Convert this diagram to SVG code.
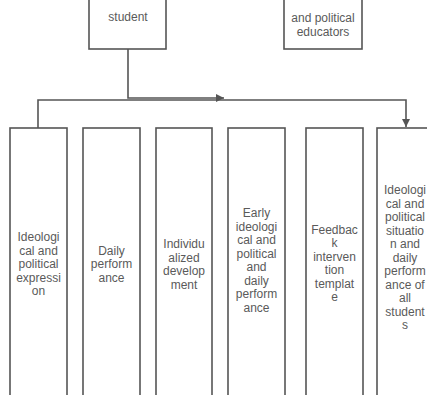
<svg xmlns="http://www.w3.org/2000/svg" width="427" height="395" viewBox="0 0 427 395">
<defs>
<style>
.box{fill:#fff;stroke:#555;stroke-width:1.6}
.ln{fill:none;stroke:#555;stroke-width:1.6}
text{font-family:"Liberation Sans",Arial,sans-serif;font-size:12px;fill:#5a5a5a;text-anchor:middle}
</style>
<marker id="ah" viewBox="0 0 10 10" refX="10" refY="5" markerWidth="11" markerHeight="8" markerUnits="userSpaceOnUse" orient="auto">
<path d="M0,0 L10,5 L0,10 Z" fill="#555"/>
</marker>
</defs>
<rect width="427" height="395" fill="#fff"/>
<g id="student">
<rect class="box" x="89" y="-10" width="77" height="59"/>
<text x="128" y="21">student</text>
</g>
<g id="educators">
<rect class="box" x="284" y="-10" width="78" height="59"/>
<text x="323" y="22">and political</text>
<text x="323" y="36">educators</text>
</g>
<g id="connectors">
<path class="ln" d="M128,49 V98 H224" marker-end="url(#ah)"/>
<path class="ln" d="M38,128 V100 H406 V127" marker-end="url(#ah)"/>
</g>
<g id="n1">
<rect class="box" x="10" y="128" width="57" height="280"/>
<text x="38.5" y="241">Ideologi</text>
<text x="38.5" y="254.5">cal and</text>
<text x="38.5" y="268">political</text>
<text x="38.5" y="281.5">expressi</text>
<text x="38.5" y="295">on</text>
</g>
<g id="n2">
<rect class="box" x="83" y="128" width="57" height="280"/>
<text x="111.5" y="254.5">Daily</text>
<text x="111.5" y="268">perform</text>
<text x="111.5" y="281.5">ance</text>
</g>
<g id="n3">
<rect class="box" x="156" y="128" width="56" height="280"/>
<text x="184" y="248">Individu</text>
<text x="184" y="261.5">alized</text>
<text x="184" y="275">develop</text>
<text x="184" y="288.5">ment</text>
</g>
<g id="n4">
<rect class="box" x="228" y="128" width="57" height="280"/>
<text x="256.5" y="217">Early</text>
<text x="256.5" y="230.5">ideologi</text>
<text x="256.5" y="244">cal and</text>
<text x="256.5" y="257.5">political</text>
<text x="256.5" y="271">and</text>
<text x="256.5" y="284.5">daily</text>
<text x="256.5" y="298">perform</text>
<text x="256.5" y="311.5">ance</text>
</g>
<g id="n5">
<rect class="box" x="306" y="128" width="57" height="280"/>
<text x="334.5" y="233.5">Feedbac</text>
<text x="334.5" y="247">k</text>
<text x="334.5" y="260.5">interven</text>
<text x="334.5" y="274">tion</text>
<text x="334.5" y="287.5">templat</text>
<text x="334.5" y="301">e</text>
</g>
<g id="n6">
<rect class="box" x="377" y="128" width="60" height="280"/>
<text x="405" y="194">Ideologi</text>
<text x="405" y="207.5">cal and</text>
<text x="405" y="221">political</text>
<text x="405" y="234.5">situatio</text>
<text x="405" y="248">n and</text>
<text x="405" y="261.5">daily</text>
<text x="405" y="275">perform</text>
<text x="405" y="288.5">ance of</text>
<text x="405" y="302">all</text>
<text x="405" y="315.5">student</text>
<text x="405" y="329">s</text>
</g>
</svg>
